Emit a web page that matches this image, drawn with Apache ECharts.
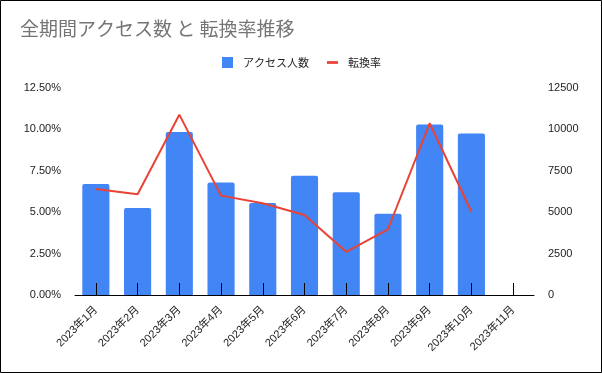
<!DOCTYPE html>
<html><head><meta charset="utf-8">
<script src="https://cdn.jsdelivr.net/npm/echarts@6/dist/echarts.min.js"></script>
<style>html,body{margin:0;padding:0;background:#fff}#c{width:602px;height:373px}</style>
</head><body><div id="c"></div>
<script>
const categories = ['2023年1月','2023年2月','2023年3月','2023年4月','2023年5月','2023年6月','2023年7月','2023年8月','2023年9月','2023年10月','2023年11月'];
const visitors = [6700, 5250, 9850, 6800, 5550, 7200, 6200, 4900, 10300, 9750, null];
const conversionRate = [0.0640, 0.0608, 0.1089, 0.0600, 0.0554, 0.0483, 0.0261, 0.0397, 0.1037, 0.0503, null];

const FONT = "'Liberation Sans', 'Noto Sans CJK JP', sans-serif";
const chart = echarts.init(document.getElementById('c'), null, {renderer: 'canvas'});
chart.setOption({
  animation: false,
  backgroundColor: '#fff',
  textStyle: {fontFamily: FONT},
  graphic: [{type: 'rect', shape: {x: 0.5, y: 0.5, width: 601, height: 372}, style: {fill: 'none', stroke: '#000', lineWidth: 1}, silent: true}],
  title: {
    text: '全期間アクセス数 と 転換率推移',
    left: 20, top: 19, padding: 0,
    textStyle: {fontFamily: "'Noto Sans CJK JP', sans-serif", fontSize: 19, fontWeight: 'normal', color: '#757575'}
  },
  legend: {
    left: 222, top: 57, padding: 0,
    itemWidth: 11, itemHeight: 11, itemGap: 18,
    textStyle: {fontFamily: "'Noto Sans CJK JP', sans-serif", fontSize: 11, color: '#222', padding: [0, 0, 0, 5]},
    data: [{name: 'アクセス人数', icon: 'rect'}, {name: '転換率', icon: 'path://M0 0H12V3H0Z'}]
  },
  grid: {left: 75, right: 68, top: 88, bottom: 78},
  xAxis: {
    type: 'category', data: categories, z: 5,
    axisLine: {show: true, lineStyle: {color: '#000', width: 1}},
    axisTick: {show: true, inside: true, length: 12, alignWithLabel: true, interval: 0, lineStyle: {color: '#000', width: 1}},
    axisLabel: {rotate: 45, interval: 0, fontSize: 11, color: '#222', margin: 13, fontFamily: FONT}
  },
  yAxis: [
    {type: 'value', min: 0, max: 0.125, interval: 0.025,
     axisLine: {show: false}, axisTick: {show: false}, splitLine: {show: false},
     axisLabel: {fontSize: 11, color: '#222', margin: 14, formatter: v => (v * 100).toFixed(2) + '%'}},
    {type: 'value', min: 0, max: 12500, interval: 2500,
     axisLine: {show: false}, axisTick: {show: false}, splitLine: {show: false},
     axisLabel: {fontSize: 11, color: '#222', margin: 14, formatter: v => String(v)}}
  ],
  series: [
    {name: 'アクセス人数', type: 'bar', yAxisIndex: 1, data: visitors, barWidth: '65%',
     itemStyle: {color: '#4285F4', borderRadius: [2, 2, 0, 0]}},
    {name: '転換率', type: 'line', yAxisIndex: 0, data: conversionRate, symbol: 'none', z: 3,
     connectNulls: false, lineStyle: {color: '#EA4335', width: 2}, itemStyle: {color: '#EA4335'}}
  ]
});
</script></body></html>
